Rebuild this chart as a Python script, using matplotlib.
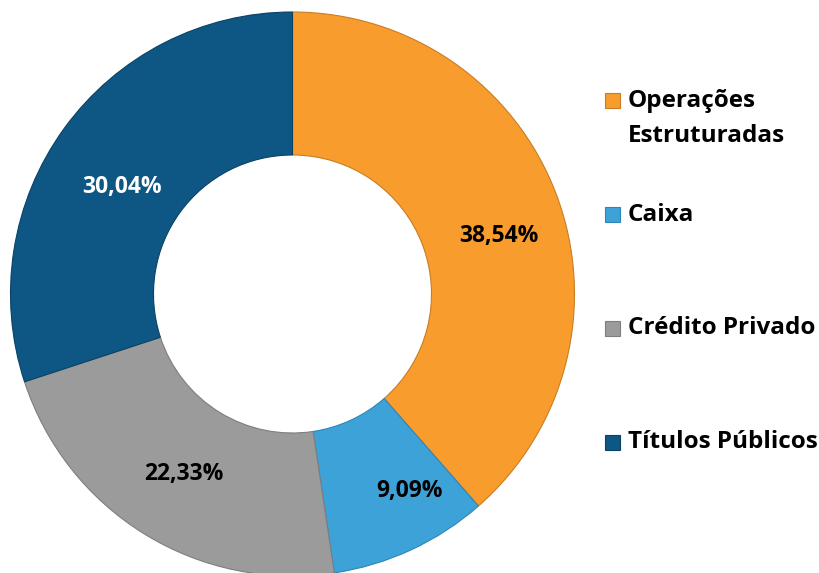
import matplotlib.pyplot as plt
from matplotlib.patches import Rectangle

# dados da carteira (sentido horário a partir do topo)
categorias = ["Operações\nEstruturadas", "Caixa", "Crédito Privado", "Títulos Públicos"]
valores = [38.54, 9.09, 22.33, 30.04]
cores = ["#F89C2E", "#3DA2D8", "#9B9B9B", "#0E5683"]
bordas = ["#C97D22", "#2E86B6", "#7E7E7E", "#0A4266"]
cor_texto = ["black", "black", "black", "white"]

plt.rcParams['font.family'] = ['Open Sans', 'DejaVu Sans']

fig = plt.figure(figsize=(8.2, 5.73), dpi=100)
ax = fig.add_axes([0, 0, 1, 1])

raio = 282
centro = (292.5, 573 - 294)

wedges, textos, pcts = ax.pie(
    valores,
    colors=cores,
    startangle=90,
    counterclock=False,
    radius=raio,
    center=centro,
    autopct=lambda p: f"{p:.2f}%".replace('.', ','),
    pctdistance=0.75,
    wedgeprops=dict(width=143, linewidth=0.8),
    textprops=dict(fontsize=16.5, fontweight='bold'),
)
for w, b in zip(wedges, bordas):
    w.set_edgecolor(b)

# pequenos ajustes de posição dos rótulos (como no Excel)
ajustes = [(8, -17), (28, -5), (2, 0), (1, -17)]
for t, c, (dx, dy) in zip(pcts, cor_texto, ajustes):
    t.set_color(c)
    x, y = t.get_position()
    t.set_position((x + dx, y + dy))

ax.set_xlim(0, 820)
ax.set_ylim(0, 573)
ax.set_aspect('equal')
ax.axis('off')

# legenda manual (primeira linha de cada item espaçada igualmente)
for i, (nome, cor, b) in enumerate(zip(categorias, cores, bordas)):
    y0 = 573 - (101 + i * 113.7)
    ax.add_patch(Rectangle((605, y0 - 7.5), 15, 15, facecolor=cor, edgecolor=b, lw=0.8))
    for j, linha in enumerate(nome.split('\n')):
        ax.text(628, y0 - j * 35, linha, fontsize=17.5, fontweight='bold',
                va='center', ha='left')

fig.savefig("out.png", dpi=100)
